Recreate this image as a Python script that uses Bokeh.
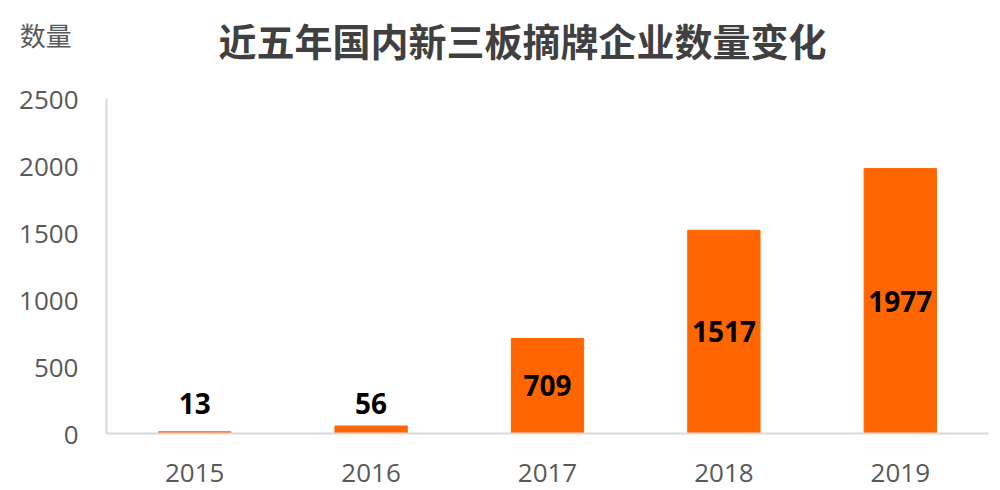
from bokeh.plotting import figure
from bokeh.models import ColumnDataSource, Label, LinearAxis, FixedTicker, Range1d
from bokeh.core.properties import value
from bokeh.embed import file_html
from bokeh.resources import INLINE

years = ["2015", "2016", "2017", "2018", "2019"]
counts = [13, 56, 709, 1517, 1977]
y_ticks = [0, 500, 1000, 1500, 2000, 2500]
y_max = 2500
title_text = "近五年国内新三板摘牌企业数量变化"
y_label_text = "数量"

label_min = 224
label_y = [max(v / 2, label_min) for v in counts]

# frame spans canvas top; axis itself spans 0..y_max
frame_h, axis_h = 433, 335
y_end = y_max * frame_h / axis_h
y_label_pos = y_max * (frame_h - 35) / axis_h

src = ColumnDataSource(dict(x=years, top=counts, ly=label_y,
                            txt=[str(v) for v in counts]))

p = figure(x_range=years, y_range=Range1d(0, y_end), width=996, height=490,
           output_backend="svg", toolbar_location=None, title_location=None,
           min_border_left=106, min_border_right=8, min_border_top=0,
           min_border_bottom=57)
p.outline_line_color = None
p.xgrid.grid_line_color = None
p.ygrid.grid_line_color = None
p.x_range.range_padding = 0

p.vbar(x="x", top="top", width=0.41, source=src, color="#FF6600")
p.text(x="x", y="ly", text="txt", source=src, text_align="center",
       text_baseline="middle", text_font=value("Open Sans"),
       text_font_style="bold", text_font_size="28px", text_color="#000000")

# x axis
xa = p.xaxis[0]
xa.axis_line_color = "#d9d9d9"
xa.axis_line_width = 2
xa.major_tick_line_color = None
xa.minor_tick_line_color = None
xa.major_tick_out = 0
xa.major_tick_in = 0
xa.major_label_text_font = "Open Sans"
xa.major_label_text_font_size = "26px"
xa.major_label_text_color = "#595959"
xa.major_label_standoff = 30

# y axis line (nearest the frame), limited to 0..y_max
ya = p.yaxis[0]
ya.bounds = (0, y_max)
ya.ticker = FixedTicker(ticks=[])
ya.axis_line_color = "#d9d9d9"
ya.axis_line_width = 2
ya.major_tick_line_color = None
ya.minor_tick_line_color = None
ya.major_tick_out = 0
ya.major_tick_in = 0
ya.major_label_standoff = 0
ya.major_label_text_font_size = "0px"

# y tick labels + unit label
yl = LinearAxis(ticker=FixedTicker(ticks=y_ticks + [y_label_pos]))
yl.major_label_overrides = {y_label_pos: y_label_text + "\u00a0"}
yl.axis_line_color = None
yl.major_tick_line_color = None
yl.minor_tick_line_color = None
yl.major_tick_out = 0
yl.major_tick_in = 0
yl.major_label_text_font = "'Open Sans', 'Noto Sans CJK SC'"
yl.major_label_text_font_size = "26px"
yl.major_label_text_color = "#595959"
yl.major_label_standoff = 28
p.add_layout(yl, "left")

p.add_layout(Label(x=416, y=394, x_units="screen", y_units="screen",
                   text=title_text, text_align="center", text_baseline="middle",
                   text_font="Noto Sans CJK SC", text_font_style="bold",
                   text_font_size="38px", text_color="#404040"))

open("out.html", "w").write(file_html(p, INLINE))
